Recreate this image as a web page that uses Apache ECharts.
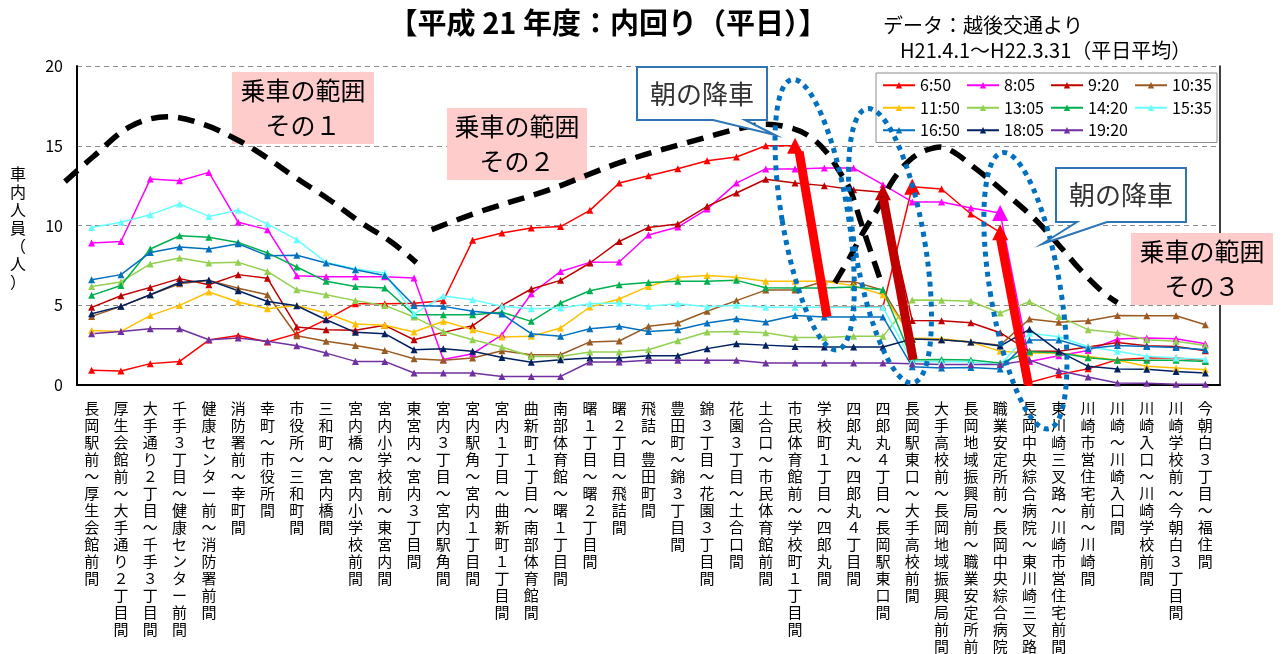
<!DOCTYPE html>
<html><head><meta charset="utf-8">
<script src="https://cdn.jsdelivr.net/npm/echarts@6/dist/echarts.min.js"></script>
<style>html,body{margin:0;padding:0;background:#fff}#c{width:1281px;height:654px}</style>
</head><body><div id="c"></div>
<script>
const categories = [
'長岡駅前～厚生会館前間','厚生会館前～大手通り２丁目間','大手通り２丁目～千手３丁目間','千手３丁目～健康センター前間',
'健康センター前～消防署前間','消防署前～幸町間','幸町～市役所間','市役所～三和町間','三和町～宮内橋間',
'宮内橋～宮内小学校前間','宮内小学校前～東宮内間','東宮内～宮内３丁目間','宮内３丁目～宮内駅角間',
'宮内駅角～宮内１丁目間','宮内１丁目～曲新町１丁目間','曲新町１丁目～南部体育館間','南部体育館～曙１丁目間',
'曙１丁目～曙２丁目間','曙２丁目～飛詰間','飛詰～豊田町間','豊田町～錦３丁目間','錦３丁目～花園３丁目間',
'花園３丁目～土合口間','土合口～市民体育館前間','市民体育館前～学校町１丁目間','学校町１丁目～四郎丸間',
'四郎丸～四郎丸４丁目間','四郎丸４丁目～長岡駅東口間','長岡駅東口～大手高校前間','大手高校前～長岡地域振興局前間',
'長岡地域振興局前～職業安定所前間','職業安定所前～長岡中央綜合病院間','長岡中央綜合病院～東川崎三叉路間',
'東川崎三叉路～川崎市営住宅前間','川崎市営住宅前～川崎間','川崎～川崎入口間','川崎入口～川崎学校前間',
'川崎学校前～今朝白３丁目間','今朝白３丁目～福住間'];

const seriesNames = ['6:50','8:05','9:20','10:35','11:50','13:05','14:20','15:35','16:50','18:05','19:20'];
const seriesColors = ['#ff0000','#ff00ff','#c00000','#9c5a22','#ffc000','#92d050','#00b050','#66ffff','#0070c0','#002060','#7030a0'];

const t0650 = [0.92,0.88,1.34,1.48,2.82,3.11,2.7,3.22,4.1,5.1,5.1,5.13,5.28,9.07,9.53,9.84,9.93,10.95,12.66,13.12,13.56,14.06,14.29,15.0,15.0,4.87,4.87,4.9,12.43,12.29,10.72,9.57,0.16,0.65,1.02,1.59,1.69,1.69,1.55];
const t0805 = [8.9,9.0,12.91,12.81,13.33,10.2,9.74,6.85,6.78,6.78,6.78,6.71,1.6,1.96,3.15,5.72,7.12,7.69,7.71,9.4,9.9,11.03,12.66,13.55,13.55,13.6,13.6,12.56,11.48,11.48,11.1,10.78,1.48,1.84,2.17,2.88,2.95,2.9,2.59];
const t0920 = [4.87,5.6,6.12,6.67,6.29,6.92,6.69,3.64,3.47,3.43,3.74,2.84,3.3,3.72,4.99,6.02,6.56,7.65,9.0,9.88,10.09,11.2,12.04,12.9,12.66,12.5,12.24,12.08,4.04,4.03,3.9,3.28,2.11,2.11,2.38,2.67,2.46,2.42,2.15];
const t1035 = [4.3,4.93,5.66,6.35,6.56,6.06,5.66,3.09,2.74,2.48,2.17,1.65,1.55,1.69,2.15,1.9,1.9,2.7,2.76,3.68,3.89,4.62,5.29,5.95,5.96,6.5,6.47,5.95,2.88,2.84,2.7,2.5,4.14,3.93,4.03,4.36,4.34,4.34,3.78];
const t1150 = [3.42,3.36,4.35,4.99,5.83,5.2,4.78,4.99,4.51,3.82,3.74,3.32,4.0,3.47,3.01,3.05,3.57,4.89,5.39,6.18,6.75,6.87,6.75,6.5,6.5,6.5,6.23,5.66,2.95,2.9,2.7,2.11,2.0,2.0,1.79,1.55,1.17,1.07,0.96];
const t1305 = [6.18,6.46,7.59,7.96,7.65,7.69,7.12,5.97,5.66,5.29,4.99,4.26,3.36,2.84,2.38,1.79,1.79,2.07,2.07,2.21,2.78,3.32,3.36,3.27,2.98,2.98,3.05,3.05,5.33,5.31,5.25,4.51,5.23,4.3,3.47,3.28,2.84,2.74,2.48];
const t1420 = [5.62,6.24,8.53,9.36,9.26,8.94,8.28,7.4,6.5,6.18,6.08,4.41,4.41,4.41,4.56,3.99,5.14,5.91,6.29,6.43,6.5,6.5,6.56,6.1,6.08,6.08,6.15,5.97,1.59,1.6,1.57,1.38,2.09,2.02,1.71,1.55,1.55,1.55,1.48];
const t1535 = [9.88,10.2,10.68,11.35,10.57,10.95,10.09,9.11,7.69,7.27,7.02,4.45,5.58,5.35,4.93,4.78,4.82,5.1,5.14,4.93,5.1,4.9,5.0,4.88,4.87,4.87,4.87,4.87,1.48,1.45,1.45,1.27,3.24,3.03,2.4,2.11,1.8,1.69,1.61];
const t1650 = [6.6,6.92,8.31,8.65,8.53,8.86,8.11,8.13,7.65,7.23,6.87,4.99,4.93,4.62,4.45,3.22,3.05,3.53,3.68,3.36,3.47,3.89,4.15,3.95,4.36,4.27,4.27,4.27,1.15,1.07,1.1,1.01,2.82,2.82,2.29,2.47,2.42,2.35,2.21];
const t1805 = [4.47,4.93,5.66,6.43,6.56,5.91,5.24,4.97,4.09,3.3,3.22,2.21,2.28,2.11,1.73,1.42,1.59,1.69,1.69,1.84,1.84,2.28,2.59,2.5,2.42,2.38,2.38,2.38,2.88,2.84,2.7,2.44,3.49,2.11,1.17,1.01,0.98,0.85,0.75];
const t1920 = [3.22,3.36,3.53,3.53,2.84,2.95,2.74,2.46,2.0,1.48,1.48,0.75,0.75,0.75,0.54,0.54,0.54,1.44,1.44,1.55,1.55,1.55,1.55,1.38,1.38,1.38,1.38,1.38,1.34,1.28,1.28,1.28,1.56,0.91,0.5,0.13,0.11,0.05,0.05];
const seriesValues = [t0650,t0805,t0920,t1035,t1150,t1305,t1420,t1535,t1650,t1805,t1920];

const yTicks = [0,5,10,15,20];
// emphasised (large) markers: [series index, category index]
const bigMarkers = [[0,24],[0,28],[0,31],[2,27],[1,31]];

const FONT = '"Noto Sans CJK JP","Noto Sans",sans-serif';
const chart = echarts.init(document.getElementById('c'), null, {renderer:'canvas'});

const series = seriesNames.map((name, si) => ({
  name, type:'line', symbol:'triangle', symbolSize:7, animation:false,
  itemStyle:{color:seriesColors[si]},
  lineStyle:{color:seriesColors[si], width:1.5},
  data: seriesValues[si].map((v, ci) => bigMarkers.some(b => b[0]===si && b[1]===ci) ? {value:v, symbolSize:16} : v),
  z: 2
}));

chart.setOption({
  backgroundColor:'#fff',
  animation:false,
  textStyle:{fontFamily:FONT},
  grid:{left:77, right:61, top:66, bottom:269, containLabel:false, outerBoundsMode:'none'},
  legend:{
    data:seriesNames, left:876, top:73, width:332, orient:'horizontal',
    itemWidth:32, itemHeight:8, itemGap:6,
    backgroundColor:'#fff', borderColor:'#8c8c8c', borderWidth:1, padding:[4,5,4,6],
    textStyle:{fontSize:16, color:'#000', width:40, lineHeight:16.5, fontFamily:FONT},
    z: 20
  },
  xAxis:{
    type:'category', data:categories, boundaryGap:true,
    axisLine:{lineStyle:{color:'#000', width:2}}, axisTick:{show:false},
    axisLabel:{interval:0, fontSize:15, lineHeight:17, color:'#000', margin:15, verticalAlign:'top',
      fontFamily:FONT, formatter: v => v.split('').join('\n')}
  },
  yAxis:[{
    type:'value', min:0, max:20, interval:5, position:'left',
    axisLine:{show:true, lineStyle:{color:'#000', width:2}}, axisTick:{show:false},
    axisLabel:{fontSize:16, color:'#000', margin:14, fontFamily:FONT,
      formatter: v => yTicks.includes(v) ? String(v) : ''},
    splitLine:{show:true, lineStyle:{color:'#8c8c8c', type:[5,4], width:1}}
  },{
    type:'value', min:0, max:20, interval:5, position:'right',
    axisLine:{show:true, lineStyle:{color:'#000', width:1.5}}, axisTick:{show:false},
    axisLabel:{show:false}, splitLine:{show:false}
  }],
  series
});

// annotation helper: fractional category index + value -> pixel
function P(ci, v){
  const a = chart.convertToPixel({gridIndex:0},[0, v]);
  const b = chart.convertToPixel({gridIndex:0},[1, v]);
  return [a[0] + (b[0]-a[0])*ci, a[1]];
}
// annotation geometry in data space (category index, value)
const curve1 = [[-0.91,12.75],[0.05,14.31],[1.31,16.2],[2.58,16.82],[3.84,16.32],[4.96,15.38],[5.92,14.32],[6.91,13.06],[8.11,11.62],[9.14,10.24],[10.26,8.92],[11.08,7.67]];
const curve2 = [[11.6,9.74],[13.24,10.87],[15.63,12.25],[18.02,13.94],[20.31,15.19],[22.8,16.32],[23.83,16.13],[24.51,15.57],[25.09,14.56],[25.54,13.31],[25.88,12.24],[26.22,10.36],[26.56,8.48],[26.97,6.29]];
const curve3 = [[25.36,6.41],[25.88,8.04],[26.32,9.55],[26.8,10.99],[27.35,12.87],[27.93,14.12],[28.51,14.75],[29.12,14.87],[30.22,13.49],[31.45,11.6],[32.27,10.24],[33.05,8.67],[33.73,7.23],[34.52,5.79],[35.0,5.16]];
const ellipses = [[24.67,10.68,33,137],[27.24,8.73,35,139],[31.86,5.91,35,140]];
const arrows = [[25.09,4.28,24.14,14.62,'#ff0000'],[28.03,1.59,27.0,11.81,'#c00000'],[31.96,0.02,31.0,9.3,'#ff0000']];

const g = [];
[curve1, curve2, curve3].forEach(c => g.push({
  type:'polyline', z:50, silent:true,
  shape:{points:c.map(p => P(p[0],p[1])), smooth:0.35},
  style:{stroke:'#000', lineWidth:5.5, lineDash:[17,10], fill:null, lineCap:'butt'}
}));
ellipses.forEach(e => { const c = P(e[0],e[1]); g.push({
  type:'ellipse', z:52, silent:true, x:c[0], y:c[1], rotation:0.166,
  shape:{cx:0, cy:0, rx:e[2], ry:e[3]},
  style:{fill:null, stroke:'#0070c0', lineWidth:5, lineDash:[5,5], lineCap:'butt'}
});});
arrows.forEach(a => { const p1 = P(a[0],a[1]), p2 = P(a[2],a[3]); g.push({
  type:'line', z:55, silent:true, shape:{x1:p1[0], y1:p1[1], x2:p2[0], y2:p2[1]},
  style:{stroke:a[4], lineWidth:9, lineCap:'butt'}
});});

// pink "boarding range" boxes
function pinkBox(x, y, w, h, lines){
  g.push({type:'rect', z:40, silent:true, shape:{x, y, width:w, height:h}, style:{fill:'#ffcccc', stroke:null}});
  g.push({type:'text', z:41, silent:true, x:x+w/2, y:y+h/2, style:{text:lines, fill:'#000', font:'25px '+FONT, align:'center', verticalAlign:'middle', lineHeight:35}});
}
pinkBox(232, 72, 142, 72, '乗車の範囲\nその１');
pinkBox(447, 108, 140, 72, '乗車の範囲\nその２');
pinkBox(1131, 233, 142, 72, '乗車の範囲\nその３');

// callouts
function callout(pts, cx, cy){
  g.push({type:'polygon', z:60, silent:true, shape:{points:pts}, style:{fill:'#fff', stroke:'#2e75b6', lineWidth:2}});
  g.push({type:'text', z:61, silent:true, x:cx, y:cy, style:{text:'朝の降車', fill:'#333', font:'26px '+FONT, align:'center', verticalAlign:'middle'}});
}
callout([[637,67],[767,67],[767,120],[745,120],[775,135],[713,120],[637,120]], 702, 94);
callout([[1056,168],[1186,168],[1186,222],[1107,222],[1042,244],[1077,222],[1056,222]], 1121, 195);

// titles
g.push({type:'text', z:70, x:608, y:23, style:{text:'【平成 21 年度：内回り（平日）】', fill:'#000', font:'bold 29px '+FONT, align:'center', verticalAlign:'middle'}});
g.push({type:'text', z:70, x:883, y:25, style:{text:'データ：越後交通より', fill:'#000', font:'20px '+FONT, align:'left', verticalAlign:'middle'}});
g.push({type:'text', z:70, x:900, y:50, style:{text:'H21.4.1～H22.3.31（平日平均）', fill:'#000', font:'20px '+FONT, align:'left', verticalAlign:'middle'}});
// y axis name (stacked vertical text)
g.push({type:'text', z:70, x:18, y:228, style:{text:'車内人員（人）'.split('').join('\n'), fill:'#000', font:'16px '+FONT, align:'center', verticalAlign:'middle', lineHeight:18}});

chart.setOption({graphic:{elements:g}});
</script>
</body></html>
